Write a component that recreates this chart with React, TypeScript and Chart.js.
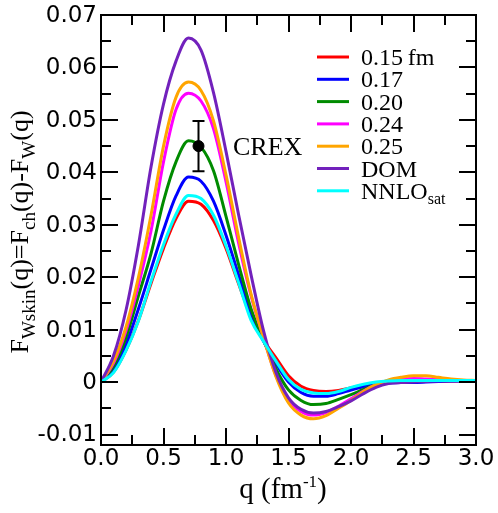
import React, { useEffect, useRef } from 'react';
import { Chart, registerables } from 'chart.js';
Chart.register(...registerables);

const Q = [0, 0.1, 0.2, 0.3, 0.4, 0.5, 0.6, 0.7, 0.8, 0.9, 1.0, 1.1, 1.2, 1.3, 1.4, 1.5, 1.6, 1.7, 1.8, 1.9, 2.0, 2.1, 2.2, 2.3, 2.4, 2.5, 2.6, 2.7, 2.8, 2.9, 3.0];

const R015 = [0, 0.0019, 0.0061, 0.0118, 0.0188, 0.0255, 0.0312, 0.0345, 0.0339, 0.0308, 0.0255, 0.0188, 0.0125, 0.0080, 0.0046, 0.0012, -0.0008, -0.0016, -0.0018, -0.0016, -0.0011, -0.0006, -0.0003, -0.0001, -0.0001, 0.0000, 0.0001, 0.0001, 0.0002, 0.0002, 0.0002];
const R017 = [0, 0.0024, 0.0072, 0.0140, 0.0215, 0.0290, 0.0355, 0.0391, 0.0383, 0.0345, 0.0280, 0.0205, 0.0130, 0.0078, 0.0035, 0.0000, -0.0020, -0.0027, -0.0027, -0.0022, -0.0015, -0.0009, -0.0004, -0.0002, -0.0001, -0.0001, 0.0000, 0.0001, 0.0002, 0.0002, 0.0003];
const R020 = [0, 0.0030, 0.0085, 0.0165, 0.0245, 0.0345, 0.0420, 0.0460, 0.0448, 0.0403, 0.0316, 0.0225, 0.0140, 0.0080, 0.0025, -0.0015, -0.0035, -0.0043, -0.0041, -0.0033, -0.0024, -0.0014, -0.0005, 0.0001, 0.0003, 0.0004, 0.0004, 0.0004, 0.0003, 0.0003, 0.0003];
const R024 = [0, 0.0036, 0.0098, 0.0185, 0.0288, 0.0420, 0.0520, 0.0551, 0.0536, 0.0483, 0.0382, 0.0266, 0.0165, 0.0085, 0.0012, -0.0035, -0.0056, -0.0063, -0.0058, -0.0046, -0.0032, -0.0017, -0.0005, 0.0003, 0.0006, 0.0007, 0.0006, 0.0005, 0.0004, 0.0003, 0.0003];
const R025 = [0, 0.0040, 0.0105, 0.0200, 0.0318, 0.0450, 0.0543, 0.0572, 0.0556, 0.0498, 0.0395, 0.0277, 0.0168, 0.0085, 0.0010, -0.0040, -0.0063, -0.0070, -0.0064, -0.0050, -0.0035, -0.0018, -0.0005, 0.0004, 0.0009, 0.0012, 0.0012, 0.0009, 0.0006, 0.0004, 0.0003];
const DOM = [0, 0.0050, 0.0137, 0.0262, 0.0410, 0.0530, 0.0612, 0.0656, 0.0633, 0.0552, 0.0440, 0.0320, 0.0205, 0.0098, 0.0018, -0.0030, -0.0052, -0.0059, -0.0056, -0.0047, -0.0036, -0.0022, -0.0010, -0.0003, -0.0001, 0.0000, 0.0001, 0.0002, 0.0002, 0.0003, 0.0003];
const NNLOSAT = [0, 0.0018, 0.0060, 0.0117, 0.0192, 0.0262, 0.0320, 0.0356, 0.0350, 0.0318, 0.0260, 0.0190, 0.0118, 0.0078, 0.0040, 0.0005, -0.0014, -0.0021, -0.0022, -0.0018, -0.0010, -0.0004, 0.0000, 0.0002, 0.0003, 0.0003, 0.0003, 0.0003, 0.0003, 0.0003, 0.0003];

const SERIES = [R015, R017, R020, R024, R025, DOM, NNLOSAT];
const SERIES_LABELS = ['0.15\u2009fm', '0.17', '0.20', '0.24', '0.25', 'DOM', 'NNLO'];
const SERIES_SUBS = ['', '', '', '', '', '', 'sat'];
const SERIES_COLORS = ['#ff0000', '#0000ff', '#008b00', '#ff00ff', '#ffa500', '#7221bc', '#00ffff'];

const CREX_Q = [0.78];
const CREX_F = [0.045];
const CREX_ERR = [0.0048];
const CREX_LABEL = 'CREX';

const X_TICKS = [0, 0.5, 1.0, 1.5, 2.0, 2.5, 3.0];
const X_TICK_LABELS = ['0.0', '0.5', '1.0', '1.5', '2.0', '2.5', '3.0'];
const X_MINOR = [0.25, 0.75, 1.25, 1.75, 2.25, 2.75];
const Y_TICKS = [-0.01, 0, 0.01, 0.02, 0.03, 0.04, 0.05, 0.06, 0.07];
const Y_TICK_LABELS = ['-0.01', '0', '0.01', '0.02', '0.03', '0.04', '0.05', '0.06', '0.07'];
const Y_MINOR = [-0.005, 0.005, 0.015, 0.025, 0.035, 0.045, 0.055, 0.065];

type Part = { t: string; s?: number };
const SERIF = '"Liberation Serif", "Times New Roman", serif';
const SANS = '"DejaVu Sans", sans-serif';

function richWidth(ctx: CanvasRenderingContext2D, parts: Part[], size: number, sub: number) {
  let w = 0;
  for (const p of parts) {
    ctx.font = `${p.s ? sub : size}px ${SERIF}`;
    w += ctx.measureText(p.t).width;
  }
  return w;
}
function drawRich(ctx: CanvasRenderingContext2D, parts: Part[], x: number, y: number, size: number, sub: number, subOff: number, supOff: number) {
  let cx = x;
  ctx.textAlign = 'left';
  ctx.textBaseline = 'alphabetic';
  for (const p of parts) {
    ctx.font = `${p.s ? sub : size}px ${SERIF}`;
    const dy = p.s === 1 ? subOff : p.s === -1 ? -supOff : 0;
    ctx.fillText(p.t, cx, y + dy);
    cx += ctx.measureText(p.t).width;
  }
}

const decor = {
  id: 'decor',
  afterDatasetsDraw(chart: any) {
    const { ctx, chartArea: a, scales } = chart;
    const x = scales.x, y = scales.y;
    ctx.save();
    ctx.strokeStyle = '#000';
    ctx.fillStyle = '#000';
    // error bar
    ctx.lineWidth = 2;
    for (let i = 0; i < CREX_Q.length; i++) {
      const px = x.getPixelForValue(CREX_Q[i]);
      const y1 = y.getPixelForValue(CREX_F[i] + CREX_ERR[i]);
      const y2 = y.getPixelForValue(CREX_F[i] - CREX_ERR[i]);
      ctx.beginPath();
      ctx.moveTo(px, y1); ctx.lineTo(px, y2);
      ctx.moveTo(px - 6, y1); ctx.lineTo(px + 6, y1);
      ctx.moveTo(px - 6, y2); ctx.lineTo(px + 6, y2);
      ctx.stroke();
      ctx.font = `26px ${SERIF}`;
      ctx.textAlign = 'left';
      ctx.textBaseline = 'alphabetic';
      ctx.fillText(CREX_LABEL, 233, y.getPixelForValue(CREX_F[i]) + 9);
    }
    // frame
    ctx.lineWidth = 2;
    ctx.strokeRect(a.left, a.top, a.right - a.left, a.bottom - a.top);
    // ticks
    const MAJ = 17, MIN = 10;
    ctx.lineWidth = 2;
    ctx.beginPath();
    for (const v of X_TICKS) {
      const p = Math.round(x.getPixelForValue(v));
      ctx.moveTo(p, a.bottom); ctx.lineTo(p, a.bottom - MAJ);
      ctx.moveTo(p, a.top); ctx.lineTo(p, a.top + MAJ);
    }
    for (const v of X_MINOR) {
      const p = Math.round(x.getPixelForValue(v));
      ctx.moveTo(p, a.bottom); ctx.lineTo(p, a.bottom - MIN);
      ctx.moveTo(p, a.top); ctx.lineTo(p, a.top + MIN);
    }
    for (const v of Y_TICKS) {
      const p = Math.round(y.getPixelForValue(v));
      ctx.moveTo(a.left, p); ctx.lineTo(a.left + MAJ, p);
      ctx.moveTo(a.right, p); ctx.lineTo(a.right - MAJ, p);
    }
    for (const v of Y_MINOR) {
      const p = Math.round(y.getPixelForValue(v));
      ctx.moveTo(a.left, p); ctx.lineTo(a.left + MIN, p);
      ctx.moveTo(a.right, p); ctx.lineTo(a.right - MIN, p);
    }
    ctx.stroke();
    // tick labels
    ctx.font = `23px ${SANS}`;
    ctx.textBaseline = 'middle';
    ctx.textAlign = 'right';
    Y_TICKS.forEach((v, i) => ctx.fillText(Y_TICK_LABELS[i], a.left - 4, y.getPixelForValue(v) + 1));
    ctx.textAlign = 'center';
    X_TICKS.forEach((v, i) => ctx.fillText(X_TICK_LABELS[i], x.getPixelForValue(v), a.bottom + 14));
    // x title
    const xt: Part[] = [{ t: 'q (fm' }, { t: '-1', s: -1 }, { t: ')' }];
    const xw = richWidth(ctx, xt, 29, 17);
    drawRich(ctx, xt, 283 - xw / 2, 498, 29, 17, 7, 11);
    // y title
    const yt: Part[] = [{ t: 'F' }, { t: 'Wskin', s: 1 }, { t: '(q)=F' }, { t: 'ch', s: 1 }, { t: '(q)-F' }, { t: 'W', s: 1 }, { t: '(q)' }];
    const yw = richWidth(ctx, yt, 26, 19);
    ctx.save();
    ctx.translate(28, 232);
    ctx.rotate(-Math.PI / 2);
    drawRich(ctx, yt, -yw / 2, 0, 26, 19, 7, 10);
    ctx.restore();
    // legend
    SERIES_LABELS.forEach((lab, i) => {
      const ry = 57 + i * 22.3;
      ctx.strokeStyle = SERIES_COLORS[i];
      ctx.lineWidth = 3;
      ctx.beginPath();
      ctx.moveTo(317, ry); ctx.lineTo(349, ry);
      ctx.stroke();
      ctx.fillStyle = '#000';
      const parts: Part[] = [{ t: lab }];
      if (SERIES_SUBS[i]) parts.push({ t: SERIES_SUBS[i], s: 1 });
      drawRich(ctx, parts, 361, ry + 8, 24, 16, 5, 8);
    });
    ctx.restore();
  },
};

export default function App() {
  const ref = useRef<HTMLCanvasElement>(null);
  useEffect(() => {
    if (!ref.current) return;
    const order = [7, 6, 5, 4, 3, 2, 1];
    const datasets: any[] = SERIES.map((s, i) => ({
      type: 'line',
      label: SERIES_LABELS[i],
      data: Q.map((q, j) => ({ x: q, y: s[j] })),
      borderColor: SERIES_COLORS[i],
      backgroundColor: SERIES_COLORS[i],
      borderWidth: 3,
      pointRadius: 0,
      fill: false,
      cubicInterpolationMode: 'monotone',
      order: order[i],
    }));
    datasets.push({
      type: 'scatter',
      label: CREX_LABEL,
      data: CREX_Q.map((q, j) => ({ x: q, y: CREX_F[j] })),
      pointRadius: 5.5,
      backgroundColor: '#000',
      borderColor: '#000',
      order: 0,
    });
    const chart = new Chart(ref.current, {
      type: 'line',
      data: { datasets },
      options: {
        animation: false,
        responsive: false,
        events: [],
        layout: { padding: { left: 101, top: 15, right: 22, bottom: 68 } },
        plugins: { legend: { display: false }, tooltip: { enabled: false } },
        scales: {
          x: { type: 'linear', min: 0, max: 3, display: false },
          y: { type: 'linear', min: -0.012, max: 0.07, display: false },
        },
      },
      plugins: [decor],
    } as any);
    return () => chart.destroy();
  }, []);
  return (
    <div style={{ position: 'absolute', left: 0, top: 0, width: 498, height: 513, background: '#fff' }}>
      <canvas ref={ref} width={498} height={513} style={{ width: 498, height: 513, display: 'block' }} />
    </div>
  );
}
